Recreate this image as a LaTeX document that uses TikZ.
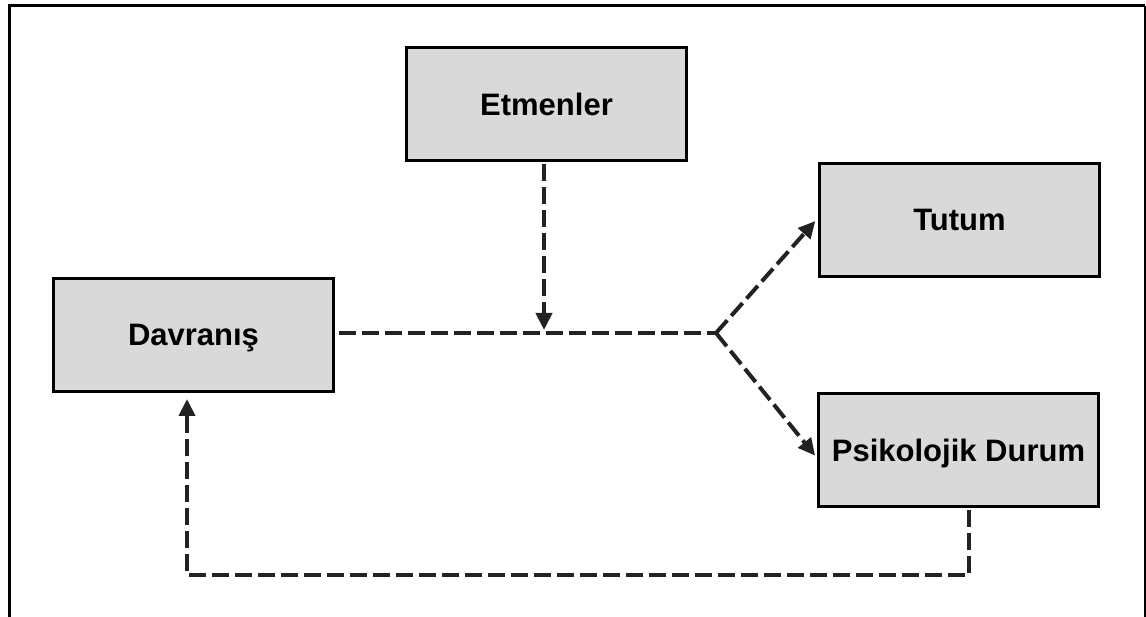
\documentclass[tikz,border=0pt]{standalone}
\usepackage{fontspec}
\setmainfont{Liberation Sans}
\usetikzlibrary{arrows.meta,calc}
\definecolor{boxfill}{HTML}{D9D9D9}
\definecolor{ink}{HTML}{222222}
\begin{document}
\begin{tikzpicture}[x=1pt,y=-1pt,
  box/.style={draw=black, line width=3pt, fill=boxfill,
    minimum width=280pt, minimum height=113pt, inner sep=0pt,
    font=\bfseries\fontsize{31}{36}\selectfont,
    text height=22pt, text depth=0pt},
  flow/.style={draw=ink, line width=4pt, dash pattern=on 17pt off 6pt},
  tip/.style={-{Triangle[length=17pt,width=16pt]}}]
\useasboundingbox (0,0) rectangle (1146,617);

% outer frame (open at the bottom)
\draw[line width=3pt, line join=miter] (9,617) -- (9,6) -- (1145,6);
\draw[line width=2pt] (1145,6) -- (1145,617);

% boxes
\node[box] (etm) at (546.5,104.5) {Etmenler};
\node[box] (dav) at (193.5,335) {Davranış};
\node[box] (tut) at (959.5,220) {Tutum};
\node[box] (psk) at (958.5,450) {Psikolojik Durum};

% branching point and helper points
\coordinate (j) at (716,333);
\coordinate (m) at (544,333);
\coordinate (fb1) at (969,575);
\coordinate (fb2) at (187,575);

% main flow from behaviour to the branch point
\draw[flow, shorten <=4pt] (dav.east |- j) -- (j);
% influence of the factors on the main flow
\draw[flow, tip, shorten >=3pt, shorten <=2pt] (etm.south -| m) -- (m);
% branches
\draw[flow, tip, shorten >=4pt] (j) -- ($(tut.west)+(0,-2)$);
\draw[flow, tip, shorten >=3pt] (j) -- ($(psk.west)+(0,8)$);
% feedback loop
\draw[flow, tip, shorten <=2pt, shorten >=6pt, line join=miter]
  (psk.south -| fb1) -- (fb1) -- (fb2) -- (dav.south -| fb2);
\end{tikzpicture}
\end{document}
